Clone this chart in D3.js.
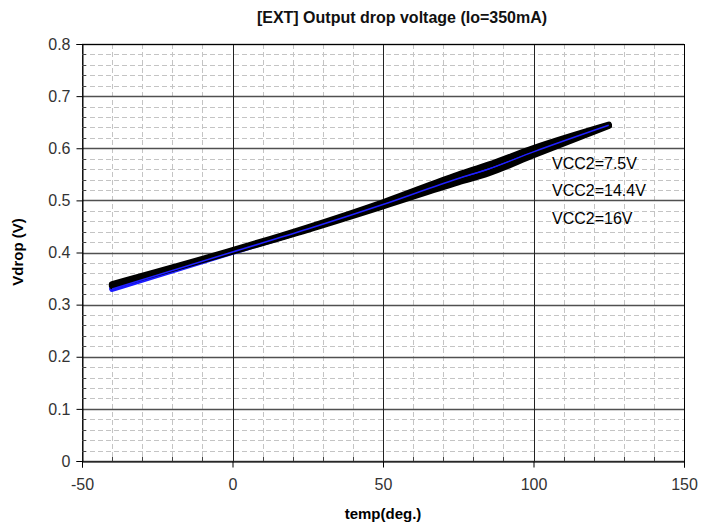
<!DOCTYPE html>
<html><head><meta charset="utf-8">
<script src="https://cdn.jsdelivr.net/npm/d3@7"></script>
<style>body{margin:0;background:#fff}svg{display:block}text{font-family:"Liberation Sans",Arial,sans-serif}</style>
</head><body>
<script>
const temps = [-40, 0, 25, 50, 75, 85, 100, 125];
const vcc75 = [0.339, 0.404, 0.448, 0.496, 0.549, 0.568, 0.600, 0.645];
const vcc144 = [0.330, 0.401, 0.445, 0.492, 0.542, 0.560, 0.593, 0.644];
const vcc16 = [0.336, 0.402, 0.444, 0.489, 0.535, 0.552, 0.587, 0.643];
const seriesNames = ["VCC2=7.5V", "VCC2=14.4V", "VCC2=16V"];
const xTicks = [-50, 0, 50, 100, 150];
const yTicks = [0, 0.1, 0.2, 0.3, 0.4, 0.5, 0.6, 0.7, 0.8];
const title = "[EXT] Output drop voltage (Io=350mA)";
const xTitle = "temp(deg.)";
const yTitle = "Vdrop (V)";

const W = 705, H = 531;
const L = 82, R = 684, T = 44, B = 461;
const svg = d3.select("body").append("svg").attr("width", W).attr("height", H);
const x = d3.scaleLinear().domain([-50, 150]).range([L, R]);
const y = d3.scaleLinear().domain([0, 0.8]).range([B, T]);

const minorX = d3.range(-50, 151, 10).filter(v => v % 50 !== 0);
const minorY = d3.range(0, 41, 1).map(i => i * 0.02).filter((v, i) => i % 5 !== 0);

const g = svg.append("g");
g.selectAll(".mx").data(minorX).join("line")
  .attr("x1", d => Math.round(x(d)) + 0.5).attr("x2", d => Math.round(x(d)) + 0.5).attr("y1", T).attr("y2", B)
  .attr("stroke", "#c4c4c4").attr("stroke-dasharray", "5,3");
g.selectAll(".my").data(minorY).join("line")
  .attr("x1", L).attr("x2", R).attr("y1", d => Math.round(y(d)) + 0.5).attr("y2", d => Math.round(y(d)) + 0.5)
  .attr("stroke", "#c4c4c4").attr("stroke-dasharray", "5,3");
g.selectAll(".My").data(yTicks).join("line")
  .attr("x1", L).attr("x2", R).attr("y1", d => Math.round(y(d)) + 0.5).attr("y2", d => Math.round(y(d)) + 0.5)
  .attr("stroke", "#505050").attr("stroke-width", 1.3);
g.selectAll(".Mx").data(xTicks).join("line")
  .attr("x1", d => Math.round(x(d)) + 0.5).attr("x2", d => Math.round(x(d)) + 0.5).attr("y1", T).attr("y2", B)
  .attr("stroke", "#222").attr("stroke-width", 1);

const yAxis = d3.axisLeft(y).tickValues(yTicks).tickSize(6).tickFormat(d => d === 0 ? "0" : d3.format(".1f")(d));
const ya = svg.append("g").attr("transform", `translate(${L + 0.5},0)`).call(yAxis);
ya.select(".domain").attr("stroke", "#000");
ya.selectAll(".tick line").attr("stroke", "#000");
ya.selectAll("text").attr("font-size", 16).attr("fill", "#333").attr("x", -12)
  .attr("font-family", "Liberation Sans, Arial, sans-serif");
svg.append("g").selectAll("line").data(minorY).join("line")
  .attr("x1", L).attr("x2", L + 4).attr("y1", d => Math.round(y(d)) + 0.5).attr("y2", d => Math.round(y(d)) + 0.5)
  .attr("stroke", "#444");

const xAxis = d3.axisBottom(x).tickValues(xTicks).tickSize(6).tickFormat(d => String(d));
const xa = svg.append("g").attr("transform", `translate(0,${B + 0.5})`).call(xAxis);
xa.select(".domain").attr("stroke", "#000");
xa.selectAll(".tick line").attr("stroke", "#000");
xa.selectAll("text").attr("font-size", 16).attr("fill", "#333").attr("y", 17)
  .attr("font-family", "Liberation Sans, Arial, sans-serif");
svg.append("g").selectAll("line").data(minorX).join("line")
  .attr("x1", d => Math.round(x(d)) + 0.5).attr("x2", d => Math.round(x(d)) + 0.5).attr("y1", B).attr("y2", B - 4)
  .attr("stroke", "#444");

svg.append("line").attr("x1", R + 0.5).attr("x2", R + 0.5).attr("y1", T).attr("y2", B + 6).attr("stroke", "#000");
svg.append("line").attr("x1", L).attr("x2", R).attr("y1", T + 0.5).attr("y2", T + 0.5).attr("stroke", "#000");

const line = d3.line().x(d => x(d[0])).y(d => y(d[1])).curve(d3.curveMonotoneX);
const pts = arr => temps.map((t, i) => [t, arr[i]]);
svg.append("path").datum(pts(vcc144)).attr("d", line).attr("fill", "none")
  .attr("stroke", "#1a1aff").attr("stroke-width", 6).attr("stroke-linecap", "round").attr("stroke-linejoin", "round");
svg.append("path").datum(pts(vcc75)).attr("d", line).attr("fill", "none")
  .attr("stroke", "#000").attr("stroke-width", 6.5).attr("stroke-linecap", "round").attr("stroke-linejoin", "round");
svg.append("path").datum(pts(vcc16)).attr("d", line).attr("fill", "none")
  .attr("stroke", "#000").attr("stroke-width", 6.5).attr("stroke-linecap", "round").attr("stroke-linejoin", "round");
svg.append("path").datum(pts(vcc144)).attr("d", line).attr("fill", "none")
  .attr("stroke", "#2020ff").attr("stroke-width", 1.5).attr("stroke-linejoin", "round");

const legY = [169, 196, 224];
svg.append("g").selectAll("text").data(seriesNames).join("text")
  .attr("x", 552).attr("y", (d, i) => legY[i]).attr("font-size", 16).attr("fill", "#000").text(d => d);

svg.append("text").attr("x", 402).attr("y", 23).attr("text-anchor", "middle")
  .attr("font-size", 16).attr("font-weight", "bold").attr("fill", "#111").text(title);
svg.append("text").attr("x", 383).attr("y", 519).attr("text-anchor", "middle")
  .attr("font-size", 15).attr("font-weight", "bold").attr("fill", "#000").text(xTitle);
svg.append("text").attr("transform", `translate(23,252) rotate(-90)`).attr("text-anchor", "middle")
  .attr("font-size", 15).attr("font-weight", "bold").attr("fill", "#000").text(yTitle);
</script>
</body></html>
